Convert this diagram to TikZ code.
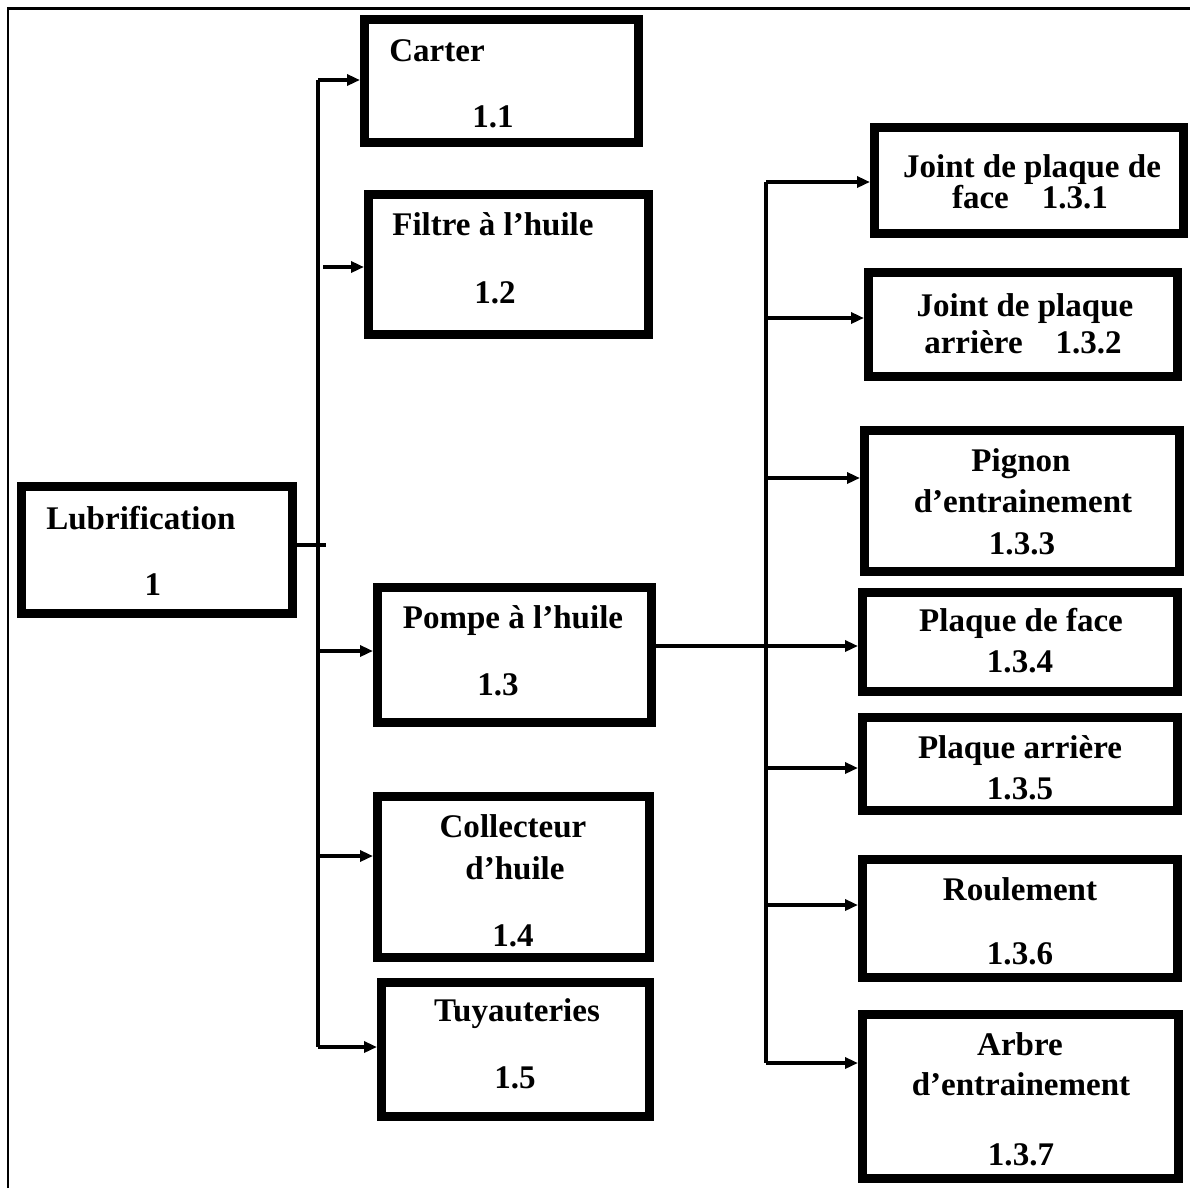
\documentclass[tikz,border=0pt]{standalone}
\usepackage{fontspec}
\setmainfont{Liberation Serif}
\usetikzlibrary{arrows.meta}

% box from its outer edges: name, x1, y1, x2, y2 (pixel units, y downwards)
\newcommand\boxat[5]{%
  \pgfmathsetmacro\bw{(#4-#2-9)*0.02}%
  \pgfmathsetmacro\bh{(#5-#3-9)*0.02}%
  \node[box, minimum width=\bw cm, minimum height=\bh cm] (#1) at ({(#2+#4)/2},{(#3+#5)/2}) {};}

\begin{document}
\begin{tikzpicture}[x=0.02cm, y=-0.02cm,
  box/.style={draw, line width=0.18cm, inner sep=0pt, fill=white},
  lbl/.style={font=\fontsize{18.8}{22}\selectfont\bfseries, inner sep=0pt, anchor=base},
  conn/.style={line width=0.065cm},
  arr/.style={conn, -{Triangle[length=0.26cm, width=0.22cm]}},
  frameline/.style={line width=0.06cm}]

\useasboundingbox (0,0) rectangle (1190,1188);

% outer frame (top and left edges)
\coordinate (fl) at (8,1188);
\coordinate (fc) at (8,8);
\coordinate (fr) at (1190,8);
\draw[frameline] (fl) -- (fc) -- (fr);

% first level
\boxat{lub}{17}{482}{297}{618}
\boxat{carter}{360}{15}{643}{147}
\boxat{filtre}{364}{190}{653}{339}
\boxat{pompe}{373}{583}{656}{727}
\boxat{coll}{373}{792}{654}{962}
\boxat{tuy}{377}{978}{654}{1121}

% second level (oil pump parts)
\boxat{jf}{870}{123}{1188}{238}
\boxat{ja}{864}{268}{1182}{381}
\boxat{pig}{860}{426}{1184}{576}
\boxat{pf}{858}{588}{1182}{696}
\boxat{pa}{858}{713}{1182}{815}
\boxat{roul}{858}{855}{1182}{982}
\boxat{arbre}{858}{1010}{1183}{1183}

% labels
\node[lbl, anchor=base west] (t-lub) at (46,529) {Lubrification};
\node[lbl] (n-lub) at (153,595) {1};
\node[lbl, anchor=base west] (t-carter) at (389,61) {Carter};
\node[lbl] (n-carter) at (493,127) {1.1};
\node[lbl, anchor=base west] (t-filtre) at (392,235) {Filtre à l’huile};
\node[lbl] (n-filtre) at (495,303) {1.2};
\node[lbl] (t-pompe) at (513,628) {Pompe à l’huile};
\node[lbl] (n-pompe) at (498,695) {1.3};
\node[lbl] (t-coll1) at (513,837) {Collecteur};
\node[lbl] (t-coll2) at (515,879) {d’huile};
\node[lbl] (n-coll) at (513,946) {1.4};
\node[lbl] (t-tuy) at (517,1021) {Tuyauteries};
\node[lbl] (n-tuy) at (515,1088) {1.5};

\node[lbl] (t-jf1) at (1032,177) {Joint de plaque de};
\node[lbl] (t-jf2) at (1030,208) {face\hspace{1em}1.3.1};
\node[lbl] (t-ja1) at (1025,316) {Joint de plaque};
\node[lbl] (t-ja2) at (1023,353) {arrière\hspace{1em}1.3.2};
\node[lbl] (t-pig1) at (1021,471) {Pignon};
\node[lbl] (t-pig2) at (1023,512) {d’entrainement};
\node[lbl] (n-pig) at (1022,554) {1.3.3};
\node[lbl] (t-pf) at (1021,631) {Plaque de face};
\node[lbl] (n-pf) at (1020,672) {1.3.4};
\node[lbl] (t-pa) at (1020,758) {Plaque arrière};
\node[lbl] (n-pa) at (1020,799) {1.3.5};
\node[lbl] (t-roul) at (1020,900) {Roulement};
\node[lbl] (n-roul) at (1020,964) {1.3.6};
\node[lbl] (t-arbre1) at (1020,1055) {Arbre};
\node[lbl] (t-arbre2) at (1021,1095) {d’entrainement};
\node[lbl] (n-arbre) at (1021,1165) {1.3.7};

% left trunk and its branches
\coordinate (l1) at (318,80);
\coordinate (l2) at (323,267);
\coordinate (l3) at (318,651);
\coordinate (l4) at (318,856);
\coordinate (l5) at (318,1047);
\coordinate (lstub) at (326,545);
\draw[conn] (l1) -- (l5);
\draw[conn, line width=0.08cm] (lub.east |- lstub) -- (lstub);
\draw[arr] (l1) -- (l1 -| carter.west);
\draw[arr] (l2) -- (l2 -| filtre.west);
\draw[arr] (l3) -- (l3 -| pompe.west);
\draw[arr] (l4) -- (l4 -| coll.west);
\draw[arr] (l5) -- (l5 -| tuy.west);

% right trunk and its branches
\coordinate (r1) at (766,182);
\coordinate (r2) at (766,318);
\coordinate (r3) at (766,478);
\coordinate (r4) at (766,646);
\coordinate (r5) at (766,768);
\coordinate (r6) at (766,905);
\coordinate (r7) at (766,1063);
\draw[conn, line width=0.08cm] (r1) -- (r7);
\draw[arr] (r1) -- (r1 -| jf.west);
\draw[arr] (r2) -- (r2 -| ja.west);
\draw[arr] (r3) -- (r3 -| pig.west);
\draw[arr] (pompe.east |- r4) -- (r4 -| pf.west);
\draw[arr] (r5) -- (r5 -| pa.west);
\draw[arr] (r6) -- (r6 -| roul.west);
\draw[arr] (r7) -- (r7 -| arbre.west);
\end{tikzpicture}
\end{document}
